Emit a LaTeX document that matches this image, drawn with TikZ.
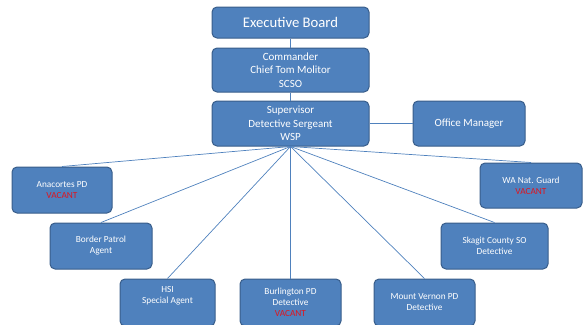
\documentclass[tikz,border=0pt]{standalone}
\usepackage{fontspec}
\setmainfont{Carlito}
\definecolor{boxfill}{HTML}{4F81BD}
\definecolor{boxedge}{HTML}{385D8A}
\definecolor{linkblue}{HTML}{4F81BD}
\definecolor{vacred}{HTML}{E0141E}
\begin{document}
\begin{tikzpicture}[x=1pt,y=-1pt,
  orgbox/.style={draw=boxedge, line width=1pt, fill=boxfill, rounded corners=5pt,
    text=white, align=center, inner sep=0pt, font=\fontsize{11}{13.5}\selectfont},
  smallbox/.style={orgbox, font=\fontsize{9.3}{11}\selectfont},
  link/.style={draw=linkblue, line width=0.7pt}]
\useasboundingbox (0,0) rectangle (583,324);

% top of the chain of command
\node[orgbox, minimum width=157pt, minimum height=31pt, font=\fontsize{14.7}{17}\selectfont]
  (exec) at (290.5,22.5) {Executive Board};
\node[orgbox, minimum width=157pt, minimum height=44pt]
  (cmd) at (290.5,70) {Commander\\Chief Tom Molitor\\SCSO};
\node[orgbox, minimum width=157pt, minimum height=45pt]
  (sup) at (290.5,123.5) {Supervisor\\Detective Sergeant\\WSP};
\node[orgbox, minimum width=112pt, minimum height=45pt]
  (off) at (469,123.5) {Office Manager};

% member agencies
\node[smallbox, minimum width=100pt, minimum height=46pt]
  (ana) at (62,190) {Anacortes PD\\\textcolor{vacred}{VACANT}};
\node[smallbox, minimum width=102pt, minimum height=46pt]
  (bp) at (101,246) {Border Patrol\\Agent};
\node[smallbox, minimum width=95pt, minimum height=47pt]
  (hsi) at (167.5,302.5) {HSI\\Special Agent\\\strut};
\node[smallbox, minimum width=101pt, minimum height=47pt]
  (bur) at (290.5,302.5) {Burlington PD\\Detective\\\textcolor{vacred}{VACANT}};
\node[smallbox, minimum width=101pt, minimum height=47pt]
  (mv) at (424.5,302.5) {Mount Vernon PD\\Detective};
\node[smallbox, minimum width=107pt, minimum height=46pt]
  (sk) at (494.5,246) {Skagit County SO\\Detective};
\node[smallbox, minimum width=102pt, minimum height=45pt]
  (wa) at (531,185.5) {WA Nat. Guard\\\textcolor{vacred}{VACANT}};

% connectors
\draw[link] (exec.south) -- (cmd.north);
\draw[link] (cmd.south) -- (sup.north);
\draw[link] (sup.east) -- (off.west);
\foreach \t in {ana,bp,hsi,bur,mv,sk,wa}
  \draw[link] (sup.south) -- (\t.north);
\end{tikzpicture}
\end{document}
